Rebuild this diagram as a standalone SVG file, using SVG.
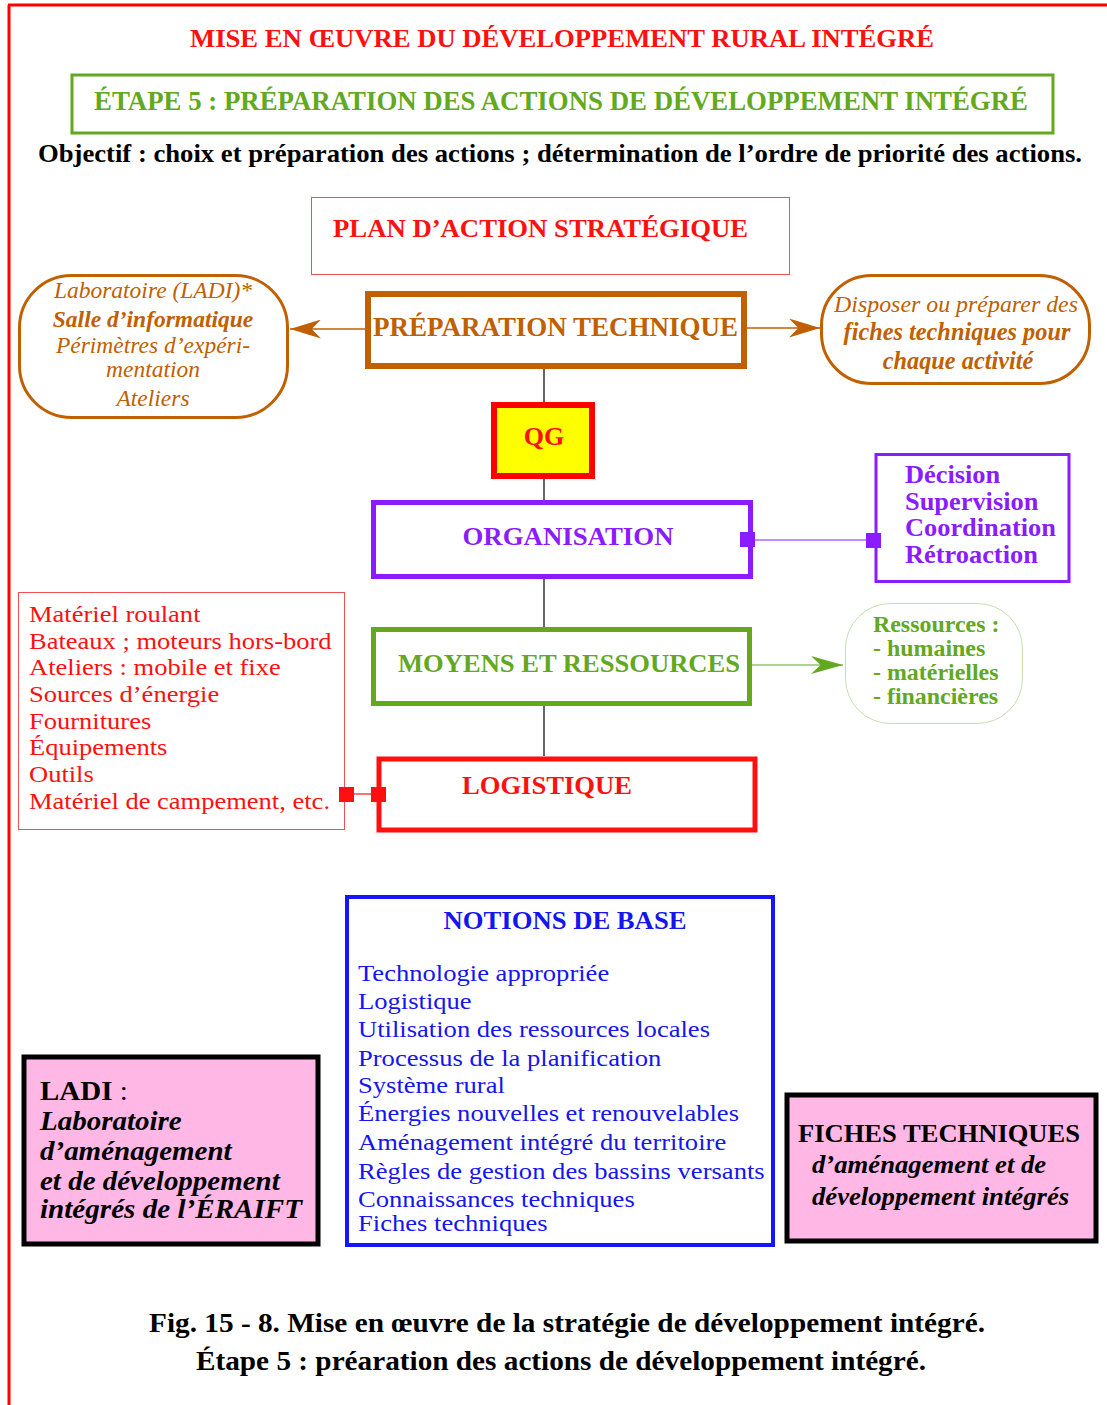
<svg xmlns="http://www.w3.org/2000/svg" width="1107" height="1405" viewBox="0 0 1107 1405">
<style>
  text { font-family: "Liberation Serif", "Times New Roman", serif; }
  .b { font-weight: bold; }
  .i { font-style: italic; }
  .mid { text-anchor: middle; }
  .brown { fill: #c06000; }
  .green { fill: #63a821; }
  .purple { fill: #8a1cff; }
  .red { fill: #ff1010; }
  .blue { fill: #1515ee; }
  .black { fill: #000; }
</style>
<defs>
  <marker id="arrBrown" viewBox="0 0 10 10" refX="10" refY="5" markerWidth="31" markerHeight="19" markerUnits="userSpaceOnUse" orient="auto" preserveAspectRatio="none">
    <path d="M0,0 L10,5 L0,10 L3,5 Z" fill="#c06000"/>
  </marker>
  <marker id="arrGreen" viewBox="0 0 10 10" refX="10" refY="5" markerWidth="32" markerHeight="18" markerUnits="userSpaceOnUse" orient="auto" preserveAspectRatio="none">
    <path d="M0,0 L10,5 L0,10 L3,5 Z" fill="#63a821"/>
  </marker>
</defs>
<rect width="1107" height="1405" fill="#fff"/>

<!-- page frame -->
<g id="frame" fill="none" stroke="#ff0000" stroke-width="3">
  <line x1="8" y1="5" x2="1107" y2="5"/>
  <line x1="9" y1="5" x2="9" y2="1405"/>
</g>

<!-- headings -->
<g id="title">
  <text x="562" y="47" class="b red mid" font-size="26" textLength="744" lengthAdjust="spacingAndGlyphs">MISE EN ŒUVRE DU DÉVELOPPEMENT RURAL INTÉGRÉ</text>
</g>
<g id="step">
  <rect x="72" y="75" width="981" height="58" fill="none" stroke="#63a821" stroke-width="3"/>
  <text x="561" y="110" class="b green mid" font-size="28" textLength="934" lengthAdjust="spacingAndGlyphs">ÉTAPE 5 : PRÉPARATION DES ACTIONS DE DÉVELOPPEMENT INTÉGRÉ</text>
</g>
<g id="objective">
  <text x="560" y="162" class="b black mid" font-size="26" textLength="1044" lengthAdjust="spacingAndGlyphs">Objectif : choix et préparation des actions ; détermination de l’ordre de priorité des actions.</text>
</g>

<!-- plan d'action -->
<g id="plan">
  <rect x="311.5" y="197.5" width="478" height="77" fill="none" stroke="#f05050" stroke-width="1"/>
  <text x="333" y="237" class="b red" font-size="26" textLength="415" lengthAdjust="spacingAndGlyphs">PLAN D’ACTION STRATÉGIQUE</text>
</g>

<g id="prep">
  <rect x="368" y="294" width="376" height="72" fill="#fff" stroke="#c06000" stroke-width="6"/>
  <text x="373" y="336" class="b brown" font-size="27" textLength="365" lengthAdjust="spacingAndGlyphs">PRÉPARATION TECHNIQUE</text>
</g>

<g id="labs">
  <rect x="19.5" y="275.5" width="268" height="142" rx="52" fill="#fff" stroke="#c06000" stroke-width="3"/>
  <text x="153" y="298" class="i brown mid" font-size="23.5">Laboratoire (LADI)*</text>
  <text x="153" y="327" class="b i brown mid" font-size="23.5">Salle d’informatique</text>
  <text x="153" y="353" class="i brown mid" font-size="23.5">Périmètres d’expéri-</text>
  <text x="153" y="377" class="i brown mid" font-size="23.5">mentation</text>
  <text x="153" y="406" class="i brown mid" font-size="23.5">Ateliers</text>
</g>

<g id="fiches-act">
  <rect x="821.5" y="275.5" width="268" height="108" rx="50" fill="#fff" stroke="#c06000" stroke-width="3"/>
  <text x="956" y="312" class="i brown mid" font-size="23" textLength="244" lengthAdjust="spacingAndGlyphs">Disposer ou préparer des</text>
  <text x="957" y="340" class="b i brown mid" font-size="24.3">fiches techniques pour</text>
  <text x="958" y="369" class="b i brown mid" font-size="24.3">chaque activité</text>
</g>

<g id="qg">
  <rect x="494" y="405" width="98" height="71" fill="#ffff00" stroke="#ff0000" stroke-width="6"/>
  <text x="544" y="445" class="b red mid" font-size="26">QG</text>
</g>

<g id="organisation">
  <rect x="373.5" y="502.5" width="377" height="74" fill="#fff" stroke="#8a1cff" stroke-width="5"/>
  <text x="568" y="545" class="b purple mid" font-size="26" textLength="211" lengthAdjust="spacingAndGlyphs">ORGANISATION</text>
</g>

<g id="decision">
  <rect x="876" y="454.5" width="193" height="127" fill="#fff" stroke="#8a1cff" stroke-width="3"/>
  <g transform="translate(905,0) scale(1.056,1) translate(-905,0)">
    <text x="905" y="483" class="b purple" font-size="25">Décision</text>
    <text x="905" y="510" class="b purple" font-size="25">Supervision</text>
    <text x="905" y="536" class="b purple" font-size="25">Coordination</text>
    <text x="905" y="563" class="b purple" font-size="25">Rétroaction</text>
  </g>
</g>

<g id="moyens">
  <rect x="373.5" y="629.5" width="376" height="74" fill="#fff" stroke="#63a821" stroke-width="5"/>
  <text x="398" y="672" class="b green" font-size="26" textLength="342" lengthAdjust="spacingAndGlyphs">MOYENS ET RESSOURCES</text>
</g>

<g id="ressources">
  <rect x="845.5" y="603.5" width="177" height="120" rx="45" fill="#fff" stroke="#c5e0b0" stroke-width="1"/>
  <g transform="translate(873,0) scale(1.04,1) translate(-873,0)">
    <text x="873" y="632" class="b green" font-size="23">Ressources :</text>
    <text x="873" y="656" class="b green" font-size="23">- humaines</text>
    <text x="873" y="680" class="b green" font-size="23">- matérielles</text>
    <text x="873" y="704" class="b green" font-size="23">- financières</text>
  </g>
</g>

<g id="logistique">
  <rect x="379" y="759" width="376" height="71" fill="#fff" stroke="#ff1010" stroke-width="5"/>
  <text x="462" y="794" class="b red" font-size="26" textLength="170" lengthAdjust="spacingAndGlyphs">LOGISTIQUE</text>
</g>

<g id="materiel">
  <rect x="18.5" y="592.5" width="326" height="237" fill="none" stroke="#f05050" stroke-width="1"/>
  <g transform="translate(29,0) scale(1.105,1) translate(-29,0)">
    <text x="29" y="622" class="red" font-size="24">Matériel roulant</text>
    <text x="29" y="649" class="red" font-size="24">Bateaux ; moteurs hors-bord</text>
    <text x="29" y="675" class="red" font-size="24">Ateliers : mobile et fixe</text>
    <text x="29" y="702" class="red" font-size="24">Sources d’énergie</text>
    <text x="29" y="729" class="red" font-size="24">Fournitures</text>
    <text x="29" y="755" class="red" font-size="24">Équipements</text>
    <text x="29" y="782" class="red" font-size="24">Outils</text>
    <text x="29" y="809" class="red" font-size="24">Matériel de campement, etc.</text>
  </g>
</g>

<g id="notions">
  <rect x="347" y="897" width="426" height="348" fill="#fff" stroke="#1515ff" stroke-width="4"/>
  <text x="565" y="929" class="b blue mid" font-size="26" textLength="243" lengthAdjust="spacingAndGlyphs">NOTIONS DE BASE</text>
  <g transform="translate(358,0) scale(1.108,1) translate(-358,0)">
    <text x="358" y="981" class="blue" font-size="24">Technologie appropriée</text>
    <text x="358" y="1009" class="blue" font-size="24">Logistique</text>
    <text x="358" y="1037" class="blue" font-size="24">Utilisation des ressources locales</text>
    <text x="358" y="1066" class="blue" font-size="24">Processus de la planification</text>
    <text x="358" y="1093" class="blue" font-size="24">Système rural</text>
    <text x="358" y="1121" class="blue" font-size="24">Énergies nouvelles et renouvelables</text>
    <text x="358" y="1150" class="blue" font-size="24">Aménagement intégré du territoire</text>
    <text x="358" y="1179" class="blue" font-size="24">Règles de gestion des bassins versants</text>
    <text x="358" y="1207" class="blue" font-size="24">Connaissances techniques</text>
    <text x="358" y="1231" class="blue" font-size="24">Fiches techniques</text>
  </g>
</g>

<g id="ladi">
  <rect x="24" y="1057" width="294" height="187" fill="#ffb8e6" stroke="#000" stroke-width="5"/>
  <g transform="translate(40,0) scale(1.074,1) translate(-40,0)">
    <text x="40" y="1100" class="b black" font-size="27">LADI <tspan font-weight="normal">:</tspan></text>
    <text x="40" y="1130" class="b i black" font-size="27">Laboratoire</text>
    <text x="40" y="1160" class="b i black" font-size="27">d’aménagement</text>
    <text x="40" y="1190" class="b i black" font-size="27">et de développement</text>
    <text x="40" y="1218" class="b i black" font-size="27" textLength="244" lengthAdjust="spacingAndGlyphs">intégrés de l’ÉRAIFT</text>
  </g>
</g>

<g id="fiches">
  <rect x="787" y="1095" width="309" height="146" fill="#ffb8e6" stroke="#000" stroke-width="5"/>
  <text x="798" y="1142" class="b black" font-size="26" textLength="282" lengthAdjust="spacingAndGlyphs">FICHES TECHNIQUES</text>
  <g transform="translate(812,0) scale(1.09,1) translate(-812,0)">
    <text x="812" y="1173" class="b i black" font-size="24.5">d’aménagement et de</text>
    <text x="812" y="1205" class="b i black" font-size="24.5">développement intégrés</text>
  </g>
</g>

<g id="caption">
  <text x="567" y="1332" class="b black mid" font-size="27" textLength="836" lengthAdjust="spacingAndGlyphs">Fig. 15 - 8. Mise en œuvre de la stratégie de développement intégré.</text>
  <text x="561" y="1370" class="b black mid" font-size="27" textLength="730" lengthAdjust="spacingAndGlyphs">Étape 5 : préaration des actions de développement intégré.</text>
</g>

<!-- connectors: spine between the central boxes, side arrows and square-ended links -->
<g id="connectors">
  <g stroke="#000" stroke-width="1.2">
    <line x1="544" y1="369" x2="544" y2="402"/>
    <line x1="544" y1="479" x2="544" y2="500"/>
    <line x1="544" y1="579" x2="544" y2="627"/>
    <line x1="544" y1="706" x2="544" y2="756"/>
  </g>
  <line x1="365" y1="329" x2="290" y2="329" stroke="#c06000" stroke-width="1.5" marker-end="url(#arrBrown)"/>
  <line x1="747" y1="328" x2="820" y2="328" stroke="#c06000" stroke-width="1.5" marker-end="url(#arrBrown)"/>
  <line x1="752" y1="665" x2="843" y2="665" stroke="#63a821" stroke-width="1.2" marker-end="url(#arrGreen)"/>
  <line x1="755" y1="540" x2="866" y2="540" stroke="#8a1cff" stroke-width="1.2"/>
  <rect x="740" y="532" width="15" height="15" fill="#8a1cff"/>
  <rect x="866" y="533" width="15" height="15" fill="#8a1cff"/>
  <line x1="354" y1="794" x2="371" y2="794" stroke="#ff1010" stroke-width="1.2"/>
  <rect x="339" y="787" width="15" height="15" fill="#ff1010"/>
  <rect x="371" y="787" width="15" height="15" fill="#ff1010"/>
</g>
</svg>
